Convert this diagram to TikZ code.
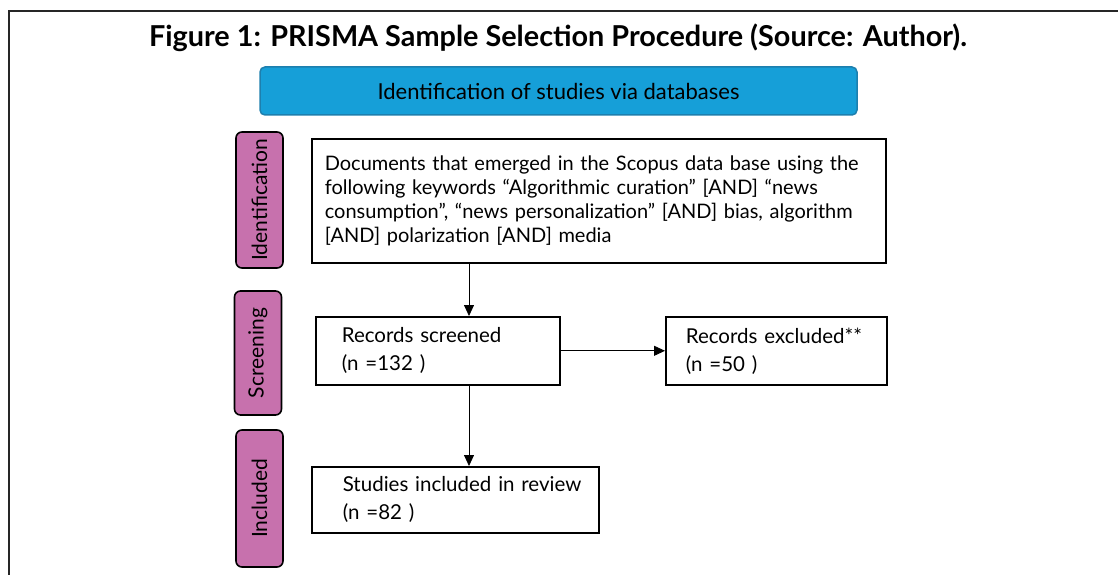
\documentclass[tikz,border=0pt]{standalone}
\usepackage{fontspec}
\setmainfont{Lato}
\usetikzlibrary{arrows.meta,calc}
\definecolor{bandblue}{HTML}{169FD8}
\definecolor{bandedge}{HTML}{1D7FAE}
\definecolor{phasefill}{HTML}{C771AD}
\newcommand{\indentby}[1]{\hspace*{#1}}
\begin{document}
\begin{tikzpicture}[x=1pt,y=-1pt,
  stagebox/.style={draw=black, line width=1.6pt, fill=white, align=left,
    anchor=north west, inner ysep=0pt, font=\fontsize{20}{24}\selectfont},
  smallbox/.style={stagebox, inner xsep=0pt, font=\fontsize{20.5}{28}\selectfont},
  phaselabel/.style={draw=black, line width=1.6pt, fill=phasefill,
    rounded corners=6pt, rotate=90, minimum height=47pt, inner sep=0pt,
    font=\fontsize{21}{24}\selectfont},
  flow/.style={line width=0.8pt, -{Triangle[length=11pt,width=10pt]}}]

\useasboundingbox (0,0) rectangle (1118,575);
% page frame
\draw[line width=1.8pt, draw=black!85] (9,11) rectangle (1140,600);

% title and database banner
\node[font=\fontsize{28.8}{32}\selectfont\bfseries] (title) at (558,38)
  {Figure 1: PRISMA Sample Selection Procedure (Source: Author).};
\node[draw=bandedge, line width=1.5pt, fill=bandblue, rounded corners=5pt,
  minimum width=597pt, minimum height=48pt, inner sep=0pt,
  font=\fontsize{22}{26}\selectfont] (banner) at (558.5,91)
  {Identification of studies via databases};

% phase labels
\node[phaselabel, minimum width=136pt] (pid) at (259.5,200) {Identification};
\node[phaselabel, minimum width=124pt] (pscr) at (258,353) {Screening};
\node[phaselabel, minimum width=137pt] (pinc) at (259.5,498.5) {Included};

% flow boxes
\node[stagebox, minimum width=574pt, minimum height=124pt, text width=548pt,
  inner xsep=13pt] (docs) at (311,138)
  {Documents that emerged in the Scopus data base using the\\
   following keywords “Algorithmic curation” [AND] “news\\
   consumption”, “news personalization” [AND] bias, algorithm\\
   \relax[AND] polarization [AND] media};
\node[smallbox, minimum height=68pt, text width=244pt] (screened) at (315,316)
  {\indentby{26pt}Records screened\\\indentby{26pt}(n =132 )};
\node[smallbox, minimum height=68pt, text width=221pt] (excluded) at (665,316)
  {\indentby{20pt}Records excluded**\\\indentby{20pt}(n =50 )};
\node[smallbox, minimum height=66pt, text width=287pt] (studies) at (311,466)
  {\indentby{31pt}Studies included in review\\\indentby{31pt}(n =82 )};

% connectors
\coordinate (spine) at (469,0);
\draw[flow] (docs.south -| spine) -- (screened.north -| spine);
\draw[flow] (screened.east) -- (excluded.west);
\draw[flow] (screened.south -| spine) -- (studies.north -| spine);
\end{tikzpicture}
\end{document}
